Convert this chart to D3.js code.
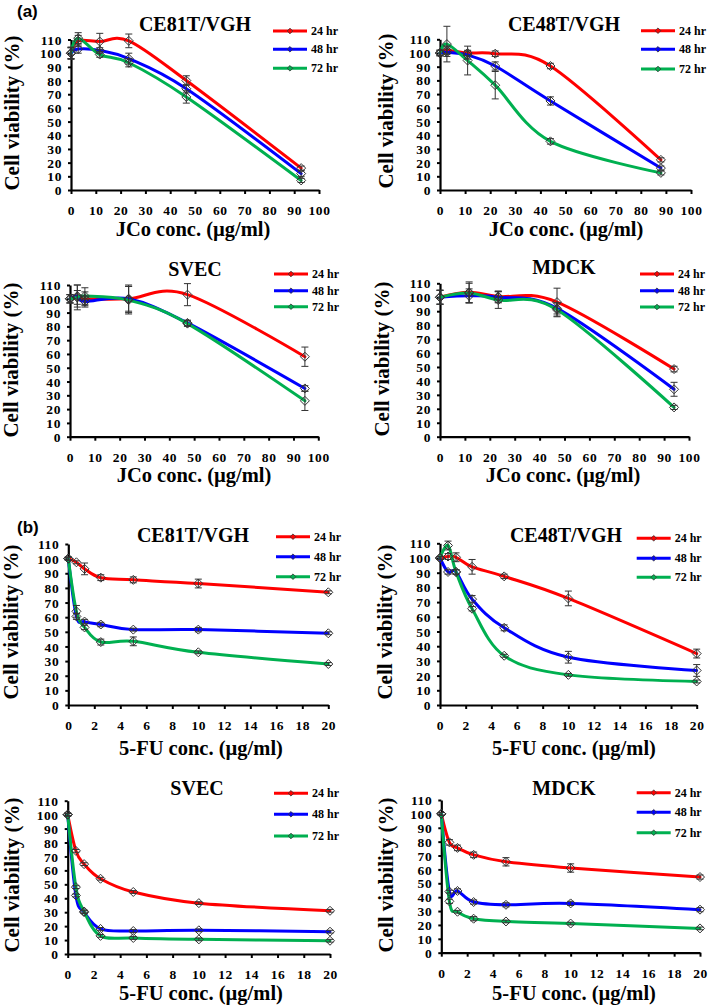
<!DOCTYPE html>
<html><head><meta charset="utf-8">
<script src="https://cdn.jsdelivr.net/npm/d3@7"></script>
<style>body{margin:0;background:#fff}svg{display:block}</style>
</head><body>
<svg id="c" width="709" height="1008"></svg>
<script>
// ---------- DATA ----------
const seriesNames = ["24 hr", "48 hr", "72 hr"];
const yTickValues = [0,10,20,30,40,50,60,70,80,90,100,110];
const jcoTickValues = [0,10,20,30,40,50,60,70,80,90,100];
const fuTickValues = [0,2,4,6,8,10,12,14,16,18,20];

// (a) JCo — CE81T/VGH
const jcoX_CE81T = [0, 2.9, 11.6, 23.3, 46.5, 92.8];
const jco24_CE81T = [100, 109, 108.5, 109, 80, 16];
const jco48_CE81T = [100, 103, 102, 96, 74, 12];
const jco72_CE81T = [100, 111, 99, 93, 68, 7];
const jcoErr24_CE81T = [4, 4, 6, 5, 3.5, 1.5];
const jcoErr48_CE81T = [4, 3, 2, 4, 3, 2];
const jcoErr72_CE81T = [4.5, 4, 2, 3, 4.5, 1.5];

// (a) JCo — CE48T/VGH
const jcoX_CE48T = [0, 2.75, 11, 22, 44, 88];
const jco24_CE48T = [100, 102, 100, 99.5, 90.5, 22];
const jco48_CE48T = [100, 100.5, 98.5, 90.5, 65, 16];
const jco72_CE48T = [100, 106.5, 94.5, 76.5, 35.5, 12.5];
const jcoErr24_CE48T = [2, 3, 2, 2, 2, 1.5];
const jcoErr48_CE48T = [2, 3, 3, 3, 3, 1.5];
const jcoErr72_CE48T = [2, 13, 10.5, 10, 2, 1.5];

// (a) JCo — SVEC
const jcoX_SVEC = [0, 2.95, 6, 23.6, 47.3, 94.6];
const jco24_SVEC = [100, 101, 100, 100, 103, 58];
const jco48_SVEC = [100, 102, 98, 100, 82.5, 35];
const jco72_SVEC = [100, 101, 102, 99, 82, 26];
const jcoErr24_SVEC = [3, 9, 5, 9, 8, 7];
const jcoErr48_SVEC = [3, 8, 4, 10, 2, 2];
const jcoErr72_SVEC = [3, 5, 6, 10, 2, 7];

// (a) JCo — MDCK
const jcoX_MDCK = [0, 11.7, 23.4, 47, 94];
const jco24_MDCK = [100, 103.5, 100.5, 96.5, 48.5];
const jco48_MDCK = [100, 101, 100, 92, 34];
const jco72_MDCK = [100, 103, 98, 91, 21];
const jcoErr24_MDCK = [5, 7.5, 4, 10, 2];
const jcoErr48_MDCK = [5, 5, 4, 4, 5];
const jcoErr72_MDCK = [5, 7, 6, 5, 1.5];

// (b) 5-FU concentrations
const fuX = [0, 0.625, 1.25, 2.5, 5, 10, 20];

// (b) 5-FU — CE81T/VGH
const fu24_CE81T = [100, 97.5, 93, 87, 85.5, 83, 77];
const fu48_CE81T = [100, 60.5, 57, 55, 51.5, 51.5, 49];
const fu72_CE81T = [100, 64, 53, 43, 43.5, 36, 28];
const fuErr24_CE81T = [1, 1, 4, 2, 2, 3, 1];
const fuErr48_CE81T = [1, 2, 1.5, 1.5, 1, 1.5, 1];
const fuErr72_CE81T = [1, 4, 1.5, 2, 3, 1, 1];

// (b) 5-FU — CE48T/VGH
const fu24_CE48T = [100, 101, 100.5, 94, 87.5, 72.5, 35];
const fu48_CE48T = [100, 90.5, 90.5, 72, 52.5, 32.5, 23.5];
const fu72_CE48T = [100, 108.5, 90.5, 65.5, 33.5, 20.5, 16];
const fuErr24_CE48T = [1, 2, 3, 5, 1.5, 5, 3];
const fuErr48_CE48T = [1, 1.5, 1.5, 2.5, 2, 4, 4];
const fuErr72_CE48T = [1, 3, 1.5, 1.5, 1, 1, 1];

// (b) 5-FU — SVEC
const fu24_SVEC = [100, 74, 64.5, 54, 44.5, 36.5, 31];
const fu48_SVEC = [100, 42, 30, 18, 16.5, 17, 16];
const fu72_SVEC = [100, 48, 30.5, 13, 11.5, 10.5, 9.5];
const fuErr24_SVEC = [1, 1, 1, 1, 1, 1, 1];
const fuErr48_SVEC = [1, 1, 1, 1, 1, 1, 1];
const fuErr72_SVEC = [1, 1, 1, 1, 1, 1, 1];

// (b) 5-FU — MDCK
const fu24_MDCK = [100, 79.5, 75.5, 70.5, 65.5, 61, 54.5];
const fu48_MDCK = [100, 44, 44.5, 36.5, 34.5, 35.5, 31];
const fu72_MDCK = [100, 37, 29.5, 24.5, 22.5, 21, 17.5];
const fuErr24_MDCK = [1, 2, 2, 2, 3, 3, 1.5];
const fuErr48_MDCK = [1, 1, 1.5, 1.5, 1.5, 1.5, 1.5];
const fuErr72_MDCK = [1, 1.5, 1, 1.5, 1, 1, 1];

// ---------- STYLE / LAYOUT ----------
const colors = ["#ff0000", "#0000ff", "#00b050"];
const SERIF = "'Liberation Serif','Times New Roman',serif";
const jcoLabel = "JCo conc. (µg/ml)";
const fuLabel = "5-FU conc. (µg/ml)";

const panels = [
  {title:"CE81T/VGH", xl:jcoLabel, ticks:jcoTickValues, dom:[0,100], x:jcoX_CE81T,
   v:[jco24_CE81T,jco48_CE81T,jco72_CE81T], e:[jcoErr24_CE81T,jcoErr48_CE81T,jcoErr72_CE81T],
   xr:[71,319], y0:190, y1:39.5, tx:195, ty:31, ylx:19, yly:113, xlx:193, xly:236, lx:273, lr:[31,49.3,68.3]},
  {title:"CE48T/VGH", xl:jcoLabel, ticks:jcoTickValues, dom:[0,100], x:jcoX_CE48T,
   v:[jco24_CE48T,jco48_CE48T,jco72_CE48T], e:[jcoErr24_CE48T,jcoErr48_CE48T,jcoErr72_CE48T],
   xr:[440,691], y0:190, y1:39.3, tx:564, ty:31, ylx:393, yly:111, xlx:566, xly:236, lx:641, lr:[30.7,49.3,69]},
  {title:"SVEC", xl:jcoLabel, ticks:jcoTickValues, dom:[0,100], x:jcoX_SVEC,
   v:[jco24_SVEC,jco48_SVEC,jco72_SVEC], e:[jcoErr24_SVEC,jcoErr48_SVEC,jcoErr72_SVEC],
   xr:[70,318.3], y0:436.7, y1:285, tx:195, ty:276, ylx:18, yly:360, xlx:194, xly:482, lx:274, lr:[274,290.7,306.7]},
  {title:"MDCK", xl:jcoLabel, ticks:jcoTickValues, dom:[0,100], x:jcoX_MDCK,
   v:[jco24_MDCK,jco48_MDCK,jco72_MDCK], e:[jcoErr24_MDCK,jcoErr48_MDCK,jcoErr72_MDCK],
   xr:[440,689], y0:436.7, y1:283.3, tx:564, ty:274, ylx:389, yly:359, xlx:563, xly:482, lx:640, lr:[274,290.7,307]},
  {title:"CE81T/VGH", xl:fuLabel, ticks:fuTickValues, dom:[0,20], x:fuX,
   v:[fu24_CE81T,fu48_CE81T,fu72_CE81T], e:[fuErr24_CE81T,fuErr48_CE81T,fuErr72_CE81T],
   xr:[68.3,328.3], y0:705, y1:544, tx:193, ty:542, ylx:18, yly:622, xlx:201, xly:755, lx:276, lr:[536.7,556.7,576.7]},
  {title:"CE48T/VGH", xl:fuLabel, ticks:fuTickValues, dom:[0,20], x:fuX,
   v:[fu24_CE48T,fu48_CE48T,fu72_CE48T], e:[fuErr24_CE48T,fuErr48_CE48T,fuErr72_CE48T],
   xr:[440,696.7], y0:705, y1:543.3, tx:566, ty:542, ylx:392, yly:622, xlx:574, xly:755, lx:636.7, lr:[538.3,558.3,577.3]},
  {title:"SVEC", xl:fuLabel, ticks:fuTickValues, dom:[0,20], x:fuX,
   v:[fu24_SVEC,fu48_SVEC,fu72_SVEC], e:[fuErr24_SVEC,fuErr48_SVEC,fuErr72_SVEC],
   xr:[67.7,330], y0:954, y1:800.7, tx:197, ty:795, ylx:19, yly:875, xlx:201, xly:1000, lx:274, lr:[793.3,814.3,836]},
  {title:"MDCK", xl:fuLabel, ticks:fuTickValues, dom:[0,20], x:fuX,
   v:[fu24_MDCK,fu48_MDCK,fu72_MDCK], e:[fuErr24_MDCK,fuErr48_MDCK,fuErr72_MDCK],
   xr:[441.3,700], y0:952.7, y1:800, tx:564, ty:795, ylx:393, yly:875, xlx:574, xly:1000, lx:636.7, lr:[792.7,812.3,832.7]}
];

const svg = d3.select("#c");
svg.append("rect").attr("width",709).attr("height",1008).attr("fill","#fff");

const diamond = (cx, cy, r) => `M${cx},${cy-r}L${cx+r},${cy}L${cx},${cy+r}L${cx-r},${cy}Z`;

panels.forEach(p => {
  const g = svg.append("g");
  const xs = d3.scaleLinear().domain(p.dom).range(p.xr);
  const ys = d3.scaleLinear().domain([0,110]).range([p.y0, p.y1]);

  // axes
  const ya = g.append("g").attr("transform",`translate(${p.xr[0]},0)`)
    .call(d3.axisLeft(ys).tickValues(yTickValues).tickSize(3).tickSizeOuter(0).tickPadding(6));
  const xa = g.append("g").attr("transform",`translate(0,${p.y0})`)
    .call(d3.axisBottom(xs).tickValues(p.ticks).tickSize(4).tickSizeOuter(0));
  [ya, xa].forEach(a => {
    a.select(".domain").attr("stroke","#000").attr("stroke-width",2.2);
    a.selectAll(".tick line").attr("stroke","#000").attr("stroke-width",2);
    a.selectAll("text").attr("font-family",SERIF).attr("font-weight","bold")
      .attr("font-size",13.5).attr("fill","#000").attr("letter-spacing","0.6px");
  });
  xa.selectAll("text").attr("y",25).attr("dy",0);
  ya.selectAll("text").attr("dy","0.34em");

  // lines
  const line = d3.line().x(d=>xs(d[0])).y(d=>ys(d[1])).curve(d3.curveCardinal.tension(0));
  p.v.forEach((vals,i) => {
    g.append("path").datum(p.x.map((xv,j)=>[xv, vals[j]]))
      .attr("d", line).attr("fill","none").attr("stroke",colors[i])
      .attr("stroke-width",3).attr("stroke-linejoin","round").attr("stroke-linecap","round");
  });
  // error bars
  p.v.forEach((vals,i) => {
    p.x.forEach((xv,j) => {
      const e = p.e[i][j];
      const cx = xs(xv), t = ys(vals[j]+e), b = ys(vals[j]-e);
      g.append("path").attr("d",`M${cx},${t}V${b}M${cx-3.5},${t}H${cx+3.5}M${cx-3.5},${b}H${cx+3.5}`)
        .attr("stroke","#333").attr("stroke-width",1).attr("fill","none");
    });
  });
  // markers
  p.v.forEach((vals,i) => {
    p.x.forEach((xv,j) => {
      g.append("path").attr("d", diamond(xs(xv), ys(vals[j]), 4.5))
        .attr("fill","none").attr("stroke","#333").attr("stroke-width",1);
    });
  });

  // title
  g.append("text").attr("x",p.tx).attr("y",p.ty).attr("text-anchor","middle")
    .attr("font-family",SERIF).attr("font-weight","bold").attr("font-size",20).text(p.title);
  // y label
  g.append("text").attr("transform",`translate(${p.ylx},${p.yly}) rotate(-90)`)
    .attr("text-anchor","middle").attr("font-family",SERIF).attr("font-weight","bold")
    .attr("font-size",21).text("Cell viability (%)");
  // x label
  g.append("text").attr("x",p.xlx).attr("y",p.xly).attr("text-anchor","middle")
    .attr("font-family",SERIF).attr("font-weight","bold").attr("font-size",20.5).text(p.xl);

  // legend
  seriesNames.forEach((name,i) => {
    const ly = p.lr[i];
    g.append("line").attr("x1",p.lx).attr("x2",p.lx+34).attr("y1",ly).attr("y2",ly)
      .attr("stroke",colors[i]).attr("stroke-width",3);
    g.append("path").attr("d",diamond(p.lx+17, ly, 2.8))
      .attr("fill",colors[i]).attr("stroke","#333").attr("stroke-width",0.8);
    g.append("text").attr("x",p.lx+38).attr("y",ly+4).attr("font-family",SERIF)
      .attr("font-weight","bold").attr("font-size",12).text(name);
  });
});

// panel letters
svg.append("text").attr("x",17).attr("y",17).attr("font-family","'Liberation Sans',Arial,sans-serif")
  .attr("font-weight","bold").attr("font-size",17).text("(a)");
svg.append("text").attr("x",17).attr("y",533).attr("font-family","'Liberation Sans',Arial,sans-serif")
  .attr("font-weight","bold").attr("font-size",17).text("(b)");
</script>
</body></html>
